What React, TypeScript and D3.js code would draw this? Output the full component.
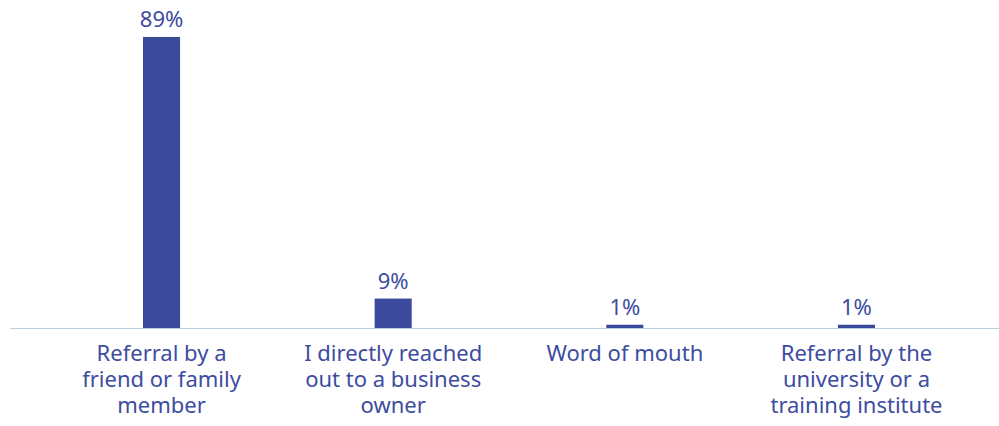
import { useEffect, useRef } from 'react';
import * as d3 from 'd3';

const CATEGORIES = [
  ['Referral by a', 'friend or family', 'member'],
  ['I directly reached', 'out to a business', 'owner'],
  ['Word of mouth'],
  ['Referral by the', 'university or a', 'training institute'],
];
const VALUES = [89, 9, 1, 1];

const BAR_COLOR = '#3b4a9b';
const TEXT_COLOR = '#3d4c9f';
const AXIS_COLOR = '#b9d3dc';

export default function App() {
  const svgRef = useRef<SVGSVGElement>(null);
  const width = 999;
  const height = 426;

  useEffect(() => {
    if (!svgRef.current) return;
    const svg = d3.select(svgRef.current);
    svg.selectAll('*').remove();

    const keys = CATEGORIES.map((c) => c.join(' '));
    const x = d3
      .scaleBand<string>()
      .domain(keys)
      .range([45.7, 972.3])
      .paddingInner(0.84)
      .paddingOuter(0.42);
    const y = d3.scaleLinear().domain([0, 100]).range([328, 1]);

    const font = "'Noto Sans', 'Open Sans', sans-serif";

    // bars
    svg
      .append('g')
      .selectAll('rect')
      .data(VALUES)
      .join('rect')
      .attr('x', (_, i) => x(keys[i])!)
      .attr('y', (d) => y(d))
      .attr('width', x.bandwidth())
      .attr('height', (d) => y(0) - y(d))
      .attr('fill', BAR_COLOR);

    // baseline
    svg
      .append('line')
      .attr('x1', 10)
      .attr('x2', width)
      .attr('y1', y(0) + 0.5)
      .attr('y2', y(0) + 0.5)
      .attr('stroke', AXIS_COLOR)
      .attr('stroke-width', 1);

    // value labels
    svg
      .append('g')
      .selectAll('text')
      .data(VALUES)
      .join('text')
      .attr('x', (_, i) => x(keys[i])! + x.bandwidth() / 2)
      .attr('y', (d) => y(d) - 10)
      .attr('text-anchor', 'middle')
      .attr('fill', TEXT_COLOR)
      .attr('font-family', font)
      .attr('font-size', '22px')
      .text((d) => `${d}%`);

    // category labels
    const labels = svg
      .append('g')
      .selectAll('text')
      .data(CATEGORIES)
      .join('text')
      .attr('text-anchor', 'middle')
      .attr('fill', TEXT_COLOR)
      .attr('font-family', font)
      .attr('font-size', '22px');

    labels.each(function (lines, i) {
      const cx = x(keys[i])! + x.bandwidth() / 2;
      d3.select(this)
        .selectAll('tspan')
        .data(lines)
        .join('tspan')
        .attr('x', cx)
        .attr('y', (_, j) => y(0) + 33 + j * 26)
        .text((d) => d);
    });
  }, []);

  return (
    <div style={{ position: 'absolute', left: 0, top: 0 }}>
      <svg ref={svgRef} width={width} height={height} style={{ display: 'block' }} />
    </div>
  );
}
